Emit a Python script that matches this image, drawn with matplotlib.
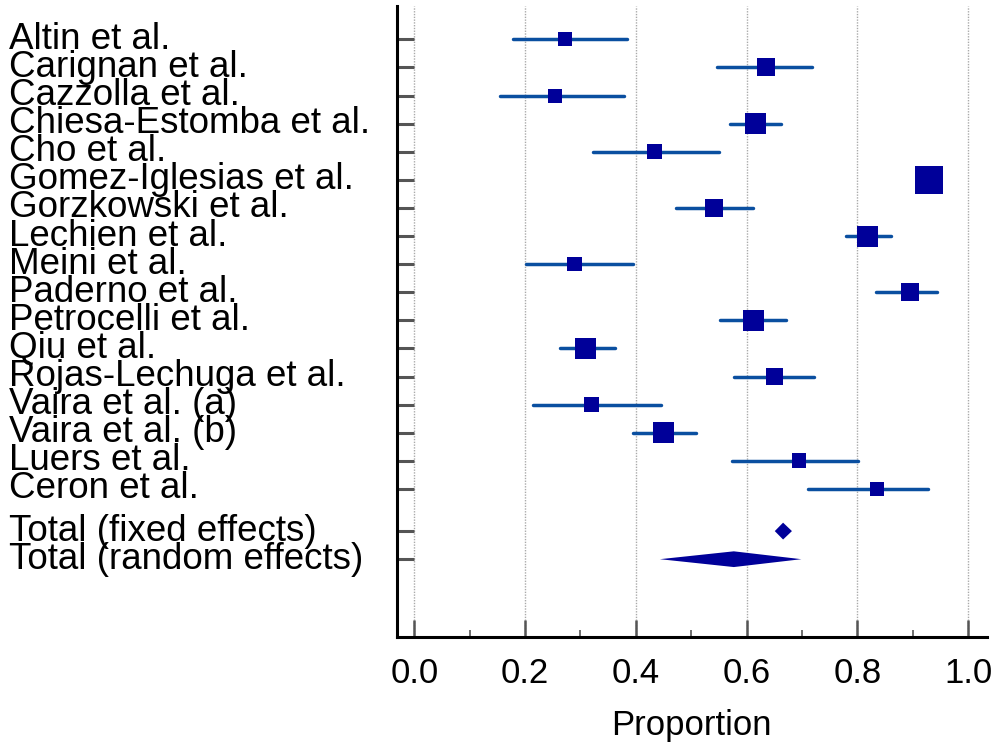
import matplotlib
matplotlib.use("Agg")
import matplotlib.pyplot as plt
from matplotlib.transforms import blended_transform_factory

# study data
studies = ["Altin et al.", "Carignan et al.", "Cazzolla et al.", "Chiesa-Estomba et al.",
           "Cho et al.", "Gomez-Iglesias et al.", "Gorzkowski et al.", "Lechien et al.",
           "Meini et al.", "Paderno et al.", "Petrocelli et al.", "Qiu et al.",
           "Rojas-Lechuga et al.", "Vaira et al. (a)", "Vaira et al. (b)", "Luers et al.",
           "Ceron et al."]
est = [0.273, 0.635, 0.254, 0.616, 0.434, 0.930, 0.542, 0.818, 0.289,
       0.895, 0.612, 0.310, 0.650, 0.320, 0.450, 0.695, 0.835]
low = [0.178, 0.546, 0.154, 0.570, 0.322, 0.915, 0.472, 0.780, 0.202,
       0.834, 0.552, 0.263, 0.577, 0.215, 0.395, 0.574, 0.711]
high = [0.384, 0.718, 0.378, 0.662, 0.550, 0.945, 0.611, 0.861, 0.395,
        0.944, 0.671, 0.363, 0.722, 0.445, 0.509, 0.801, 0.928]
weight = [3.44, 5.69, 3.44, 7.74, 3.79, 13.77, 5.69, 7.74, 3.79,
          5.50, 7.74, 7.74, 5.25, 3.69, 7.74, 3.79, 3.44]

total_labels = ["Total (fixed effects)", "Total (random effects)"]
total_est = [0.666, 0.577]
total_low = [0.651, 0.4435]
total_high = [0.682, 0.699]

xticks = [0.0, 0.2, 0.4, 0.6, 0.8, 1.0]
xtick_labels = ["0.0", "0.2", "0.4", "0.6", "0.8", "1.0"]

plt.rcParams['font.family'] = ['Liberation Sans', 'DejaVu Sans']

fig = plt.figure(figsize=(9.95, 7.44), dpi=100)
ax = fig.add_axes([0.3987, 0.1434, 0.593, 0.8485])

rows = list(range(len(studies)))
total_rows = [len(studies) + 0.5, len(studies) + 1.5]

# confidence intervals and weighted boxes
ax.hlines(rows, low, high, color='#0a4fa0', lw=2.5, capstyle='round', zorder=3)
ax.scatter(est, rows, s=[29.5 * w for w in weight], marker='s', color='#000099',
           linewidths=0, zorder=4)

# pooled estimates as diamonds
half_h = [0.30, 0.28]
for y, e, lo, hi, h in zip(total_rows, total_est, total_low, total_high, half_h):
    ax.fill([lo, e, hi, e], [y, y - h, y, y + h], color='#000099', lw=0, zorder=4)

ax.set_xlim(-0.0318, 1.0338)
ax.set_ylim(21.28, -1.185)

ax.set_xticks(xticks, xtick_labels, fontsize=25)
ax.set_xticks([0.1, 0.3, 0.5, 0.7, 0.9], minor=True)
ax.set_yticks(rows + total_rows, [""] * (len(rows) + 2))
ax.tick_params(axis='x', which='major', direction='in', length=12.2, width=1.8,
               color='#555555', pad=14)
ax.tick_params(axis='x', which='minor', direction='in', length=5, width=1.2,
               color='#555555')
ax.tick_params(axis='y', direction='in', length=12.2, width=2.2, color='#555555')

ax.grid(axis='x', which='major', color='#aaaaaa', lw=1, linestyle=(0, (1, 1)), zorder=0)

for side in ['top', 'right']:
    ax.spines[side].set_visible(False)
for side in ['left', 'bottom']:
    ax.spines[side].set_linewidth(2.2)
    ax.spines[side].set_color('black')

ax.set_xlabel("Proportion", fontsize=25, labelpad=14)

# study labels at the left edge of the figure
trans = blended_transform_factory(fig.transFigure, ax.transData)
for y, name in zip(rows + total_rows, studies + total_labels):
    ax.text(0.009, y, name, transform=trans, ha='left', va='center', fontsize=26.5,
            clip_on=False)

fig.savefig("out.png", dpi=100)
